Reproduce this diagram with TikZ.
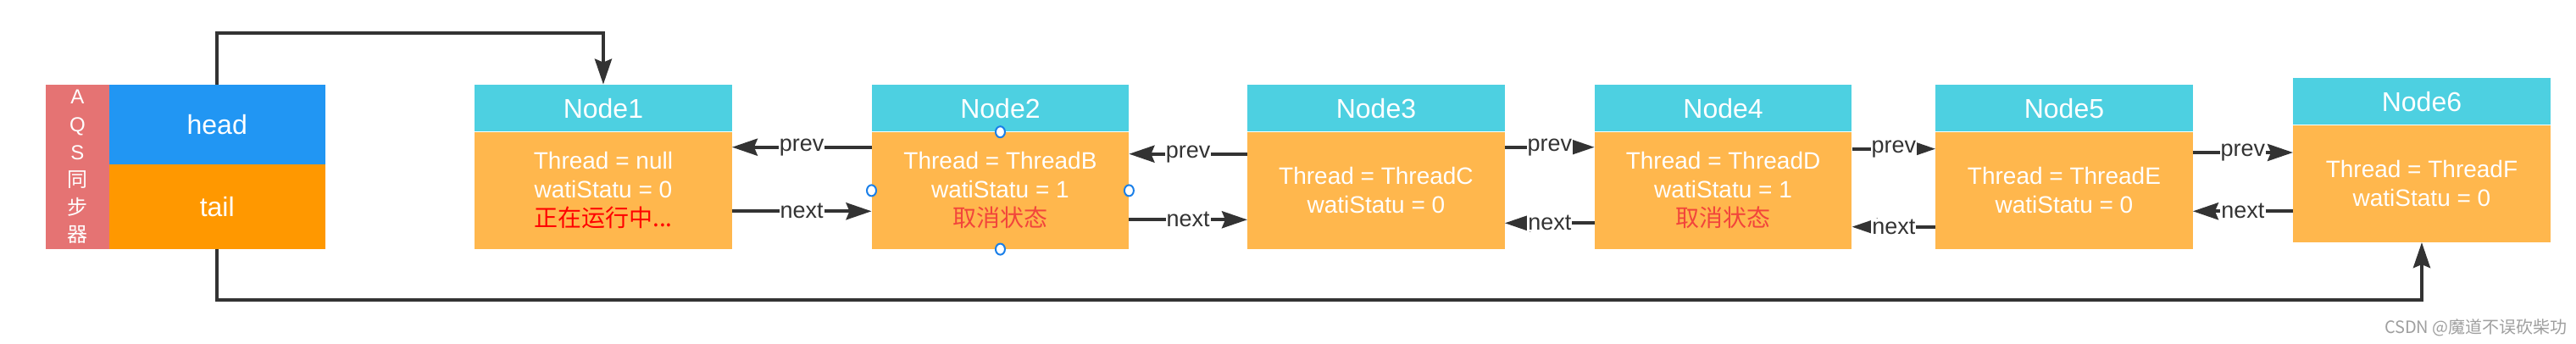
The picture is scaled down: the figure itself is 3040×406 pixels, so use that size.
\documentclass[tikz,border=0pt]{standalone}
\usepackage{fontspec}
\setmainfont{Liberation Sans}
\newfontfamily\cjk{Noto Sans CJK SC}
\usetikzlibrary{arrows.meta,calc,shapes.geometric}
\definecolor{aqsred}{HTML}{E57373}
\definecolor{headblue}{HTML}{2196F3}
\definecolor{tailorange}{HTML}{FF9800}
\definecolor{nodecyan}{HTML}{4DD0E1}
\definecolor{nodeorange}{HTML}{FFB74D}
\definecolor{linec}{HTML}{333333}
\definecolor{runred}{HTML}{FF0000}
\definecolor{cancelred}{HTML}{F2453B}
\definecolor{handleblue}{HTML}{1A7FE8}
\tikzset{
  hdr/.style={fill=nodecyan, minimum width=303.5pt, minimum height=55.7pt, inner sep=0pt, text=white, font=\fontsize{32}{38}\selectfont},
  bodybox/.style={fill=nodeorange, minimum width=303.5pt, minimum height=138pt, inner sep=0pt, text=white, align=center, font=\fontsize{28}{34}\selectfont},
  ptrbox/.style={minimum width=254.9pt, inner sep=0pt, text=white, font=\fontsize{32}{38}\selectfont},
  link/.style={draw=linec, line width=4pt, -{Stealth[length=30pt,width=20pt,inset=4pt]}},
  lbl/.style={fill=white, inner sep=1pt, text=linec, font=\fontsize{27}{30}\selectfont},
  handle/.style={ellipse, draw=handleblue, fill=white, line width=2pt, minimum width=11pt, minimum height=13pt, inner sep=0pt},
}
\begin{document}
\begin{tikzpicture}[x=1pt,y=-1pt]
\useasboundingbox (0,0) rectangle (3040,406);
% AQS synchroniser
\node[fill=aqsred, minimum width=74.6pt, minimum height=193.7pt, inner sep=0pt, anchor=north west, text=white, align=center, font=\fontsize{24}{32.6}\selectfont] (aqs) at (54,100) {A\\Q\\S\\{\cjk 同}\\{\cjk 步}\\{\cjk 器}};
\node[ptrbox, fill=headblue, minimum height=93.7pt, anchor=north west] (head) at (128.6,100) {head};
\node[ptrbox, fill=tailorange, minimum height=100pt, anchor=north west] (tail) at (128.6,193.7) {tail};
% Nodes
\node[bodybox, anchor=north west] (n1b) at (560,155.7) {Thread = null\\watiStatu = 0\\{\cjk\color{runred}正在运行中...}};
\node[hdr, anchor=south west] (n1h) at (560,155.7) {Node1};
\node[bodybox, anchor=north west] (n2b) at (1028.5,155.7) {Thread = ThreadB\\watiStatu = 1\\{\cjk\color{cancelred}取消状态}};
\node[hdr, anchor=south west] (n2h) at (1028.5,155.7) {Node2};
\node[bodybox, anchor=north west] (n3b) at (1472,155.7) {Thread = ThreadC\\watiStatu = 0};
\node[hdr, anchor=south west] (n3h) at (1472,155.7) {Node3};
\node[bodybox, anchor=north west] (n4b) at (1881.6,155.7) {Thread = ThreadD\\watiStatu = 1\\{\cjk\color{cancelred}取消状态}};
\node[hdr, anchor=south west] (n4h) at (1881.6,155.7) {Node4};
\node[bodybox, anchor=north west] (n5b) at (2284,155.7) {Thread = ThreadE\\watiStatu = 0};
\node[hdr, anchor=south west] (n5h) at (2284,155.7) {Node5};
\node[bodybox, anchor=north west] (n6b) at (2706,147.7) {Thread = ThreadF\\watiStatu = 0};
\node[hdr, anchor=south west] (n6h) at (2706,147.7) {Node6};
% head / tail pointers
\draw[link] (head.north) -- ++(0,-60.7) -| (n1h.north);
\draw[link] (tail.south) -- ++(0,60.3) -| (n6b.south);
% prev / next links
\draw[link] ($(n2b.north west)+(0,18)$) -- ($(n1b.north east)+(0,18)$) node[midway,lbl] {prev};
\draw[link] ($(n1b.north east)+(0,93.6)$) -- ($(n2b.north west)+(0,93.6)$) node[midway,lbl] {next};
\draw[link] ($(n3b.north west)+(0,26)$) -- ($(n2b.north east)+(0,26)$) node[midway,lbl] {prev};
\draw[link] ($(n2b.north east)+(0,103.6)$) -- ($(n3b.north west)+(0,103.6)$) node[midway,lbl] {next};
\draw[link] ($(n3b.north east)+(0,18)$) -- ($(n4b.north west)+(0,18)$) node[midway,lbl] {prev};
\draw[link] ($(n4b.north west)+(0,107.6)$) -- ($(n3b.north east)+(0,107.6)$) node[midway,lbl] {next};
\draw[link] ($(n4b.north east)+(0,20)$) -- ($(n5b.north west)+(0,20)$) node[midway,lbl] {prev};
\draw[link] ($(n5b.north west)+(0,112)$) -- ($(n4b.north east)+(0,112)$) node[midway,lbl] {next};
\draw[link] ($(n5b.north east)+(0,24.3)$) -- ($(n6b.north west)+(0,32.3)$) node[midway,lbl] {prev};
\draw[link] ($(n6b.north west)+(0,101.6)$) -- ($(n5b.north east)+(0,93.6)$) node[midway,lbl] {next};
% selection handles on Node2
\node[handle] (h1) at (n2b.north) {};
\node[handle] (h2) at (n2b.west) {};
\node[handle] (h3) at (n2b.east) {};
\node[handle] (h4) at (n2b.south) {};
% watermark
\node[anchor=east, text=gray!75, inner sep=0pt, font=\cjk\fontsize{20}{24}\selectfont] (wm) at (3030,386.7) {CSDN @魔道不误砍柴功};
\end{tikzpicture}
\end{document}
